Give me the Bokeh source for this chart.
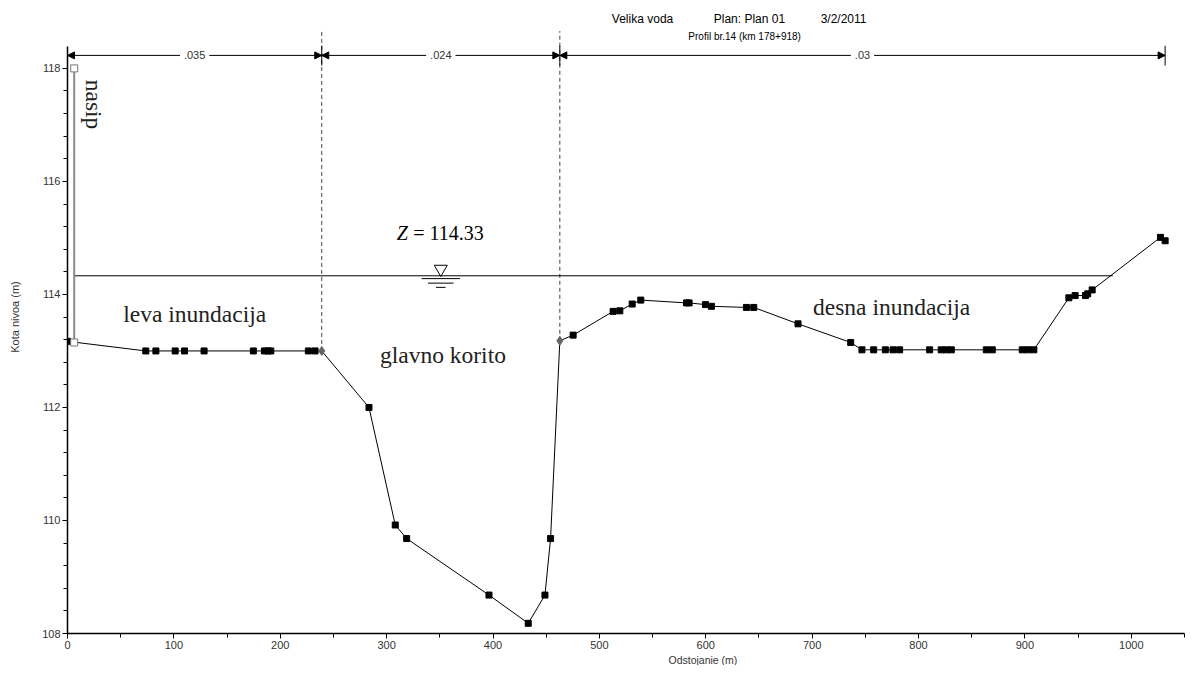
import math
from bokeh.plotting import figure
from bokeh.models import Range1d, Label, Arrow, NormalHead, SingleIntervalTicker, Title
from bokeh.embed import file_html
from bokeh.resources import INLINE

# ---------------- data ----------------
station = [0.0, 73.6, 83.1, 101.2, 110.0, 128.4, 174.7, 185.1, 188.3, 191.1, 226.4, 232.7,
           239.0, 283.4, 308.1, 318.8, 396.2, 433.1, 448.8, 454.1, 462.8, 475.3, 512.9,
           519.2, 530.8, 538.9, 581.9, 584.3, 599.7, 605.3, 638.2, 645.1, 686.7, 736.2,
           746.8, 757.8, 768.8, 776.0, 782.2, 810.4, 821.3, 826.0, 830.8, 863.7, 869.3,
           897.5, 902.8, 908.4, 941.3, 947.2, 956.9, 959.0, 963.2, 1027.4, 1031.8]
elevation = [113.17, 113.0, 113.0, 113.0, 113.0, 113.0, 113.0, 113.0, 113.0, 113.0, 113.0, 113.0,
             113.0, 112.0, 109.92, 109.68, 108.68, 108.18, 108.68, 109.68, 113.18, 113.28, 113.70,
             113.71, 113.83, 113.90, 113.85, 113.85, 113.82, 113.79, 113.77, 113.77, 113.48, 113.15,
             113.02, 113.02, 113.02, 113.02, 113.02, 113.02, 113.02, 113.02, 113.02, 113.02, 113.02,
             113.02, 113.02, 113.02, 113.94, 113.98, 113.98, 114.01, 114.08, 115.01, 114.95]
levee_station = [6.3, 6.3]
levee_elev = [113.15, 118.0]
bank_stations = [239.0, 462.8]
bank_elev = [113.0, 113.18]
ws_elev = 114.33
ws_extent = [6.3, 982.6]
n_values = [".035", ".024", ".03"]
n_bounds = [0.0, 239.0, 462.8, 1031.8]
region_labels = ["leva inundacija", "glavno korito", "desna inundacija"]
region_x = [52.4, 293.7, 700.8]
region_y = [113.66, 112.93, 113.77]
title_parts = ["Velika voda", "Plan: Plan 01", "3/2/2011"]
title_x = [511.7, 607.5, 708.0]
subtitle = "Profil br.14 (km 178+918)"

SANS = "Liberation Sans"
SERIF = "Liberation Serif"

p = figure(width=1187, height=665,
           x_range=Range1d(0, 1050), y_range=Range1d(108, 108 + 634 / 56.6),
           output_backend="svg", toolbar_location=None,
           min_border_left=67, min_border_right=3, min_border_top=0, min_border_bottom=31)
p.grid.visible = False
p.outline_line_color = None
p.background_fill_color = "white"
p.border_fill_color = "white"

# axes
p.xaxis.ticker = SingleIntervalTicker(interval=100, num_minor_ticks=2)
p.yaxis.ticker = SingleIntervalTicker(interval=2, num_minor_ticks=5)
p.yaxis.bounds = (108, 118.38)
for ax in (p.xaxis[0], p.yaxis[0]):
    ax.axis_line_color = "black"
    ax.axis_line_width = 1.5
    ax.major_tick_line_color = "black"
    ax.minor_tick_line_color = "black"
    ax.major_tick_out = 5
    ax.major_tick_in = 0
    ax.minor_tick_out = 4
    ax.minor_tick_in = 0
    ax.major_label_text_font = SANS
    ax.major_label_text_font_size = "11px"
    ax.major_label_text_color = "#333333"
p.xaxis.major_label_standoff = 2
p.yaxis.major_label_standoff = 2
p.yaxis.axis_label = "Kota nivoa (m)"
p.yaxis.axis_label_text_font = SANS
p.yaxis.axis_label_text_font_size = "11px"
p.yaxis.axis_label_text_font_style = "normal"
p.yaxis.axis_label_text_color = "#333333"
p.yaxis.axis_label_standoff = 18

# x axis label, offset to the right as in the reference
p.add_layout(Title(text="Odstojanie (m)", align="left", offset=601, standoff=0,
                   text_font=SANS, text_font_size="10.5px", text_font_style="normal",
                   text_color="#333333"), "below")

# bank station dashed lines
for bs, be in zip(bank_stations, bank_elev):
    p.line([bs, bs], [be, 118.66], line_color="#444444", line_dash="4 3", line_width=1)

# water surface
p.line(ws_extent, [ws_elev, ws_elev], line_color="black", line_width=1)
ws_sym_x = (bank_stations[0] + bank_stations[1]) / 2
p.scatter([ws_sym_x], [ws_elev + 0.12], marker="inverted_triangle", size=13,
          fill_color=None, line_color="black", line_width=1)
for half, dy in [(18, 0.05), (12, 0.13), (4.5, 0.205)]:
    p.line([ws_sym_x - half, ws_sym_x + half], [ws_elev - dy, ws_elev - dy],
           line_color="black", line_width=1)

# ground
p.line(station, elevation, line_color="black", line_width=1)
gx = [s for s in station if s not in bank_stations]
gy = [e for s, e in zip(station, elevation) if s not in bank_stations]
p.scatter(gx, gy, marker="square", size=6, fill_color="black", line_color="black")
p.scatter(bank_stations, bank_elev, marker="diamond", size=9, fill_color="#666666", line_color="#666666")

# levee
p.line(levee_station, levee_elev, line_color="#8a8a8a", line_width=2)
p.scatter(levee_station, levee_elev, marker="square", size=7, fill_color="white",
          line_color="#777777", line_width=1)

# Manning's n brackets
yb = 118.23
for i, n in enumerate(n_values):
    a, b = n_bounds[i], n_bounds[i + 1]
    mid = (a + b) / 2
    for end in (a, b):
        p.add_layout(Arrow(end=NormalHead(size=7, fill_color="black", line_color="black"),
                           x_start=mid, y_start=yb, x_end=end, y_end=yb,
                           line_color="black", line_width=1))
    p.add_layout(Label(x=mid, y=yb, text=n, text_align="center", text_baseline="middle",
                       text_font=SANS, text_font_size="11px", text_color="#333333",
                       background_fill_color="white", padding=4))
for end in n_bounds[1:]:
    p.line([end, end], [118.05, 118.40], line_color="black", line_width=1)

# titles
for t, x in zip(title_parts, title_x):
    p.add_layout(Label(x=x, y=118.87, text=t, text_align="left",
                       text_baseline="middle", text_font=SANS, text_font_size="12px",
                       text_color="black"))
p.add_layout(Label(x=636.5, y=118.56, text=subtitle, text_align="center",
                   text_baseline="middle", text_font=SANS, text_font_size="10px",
                   text_color="black"))

# region labels
for t, x, y in zip(region_labels, region_x, region_y):
    p.add_layout(Label(x=x, y=y, text=t, text_align="left", text_baseline="alphabetic",
                       text_font=SERIF, text_font_size="23.5px", text_color="#222222"))
p.add_layout(Label(x=24.5, y=117.36, text="nasip", angle=-math.pi / 2, text_align="center",
                   text_baseline="middle", text_font=SERIF, text_font_size="23.5px",
                   text_color="#222222"))

# water surface label
p.add_layout(Label(x=309.4, y=115.09, text="Z", text_align="left", text_baseline="alphabetic",
                   text_font=SERIF, text_font_style="italic", text_font_size="20px",
                   text_color="black"))
p.add_layout(Label(x=325.0, y=115.09, text="= %.2f" % ws_elev, text_align="left",
                   text_baseline="alphabetic", text_font=SERIF, text_font_size="20px",
                   text_color="black"))

open("out.html", "w").write(file_html(p, INLINE))
